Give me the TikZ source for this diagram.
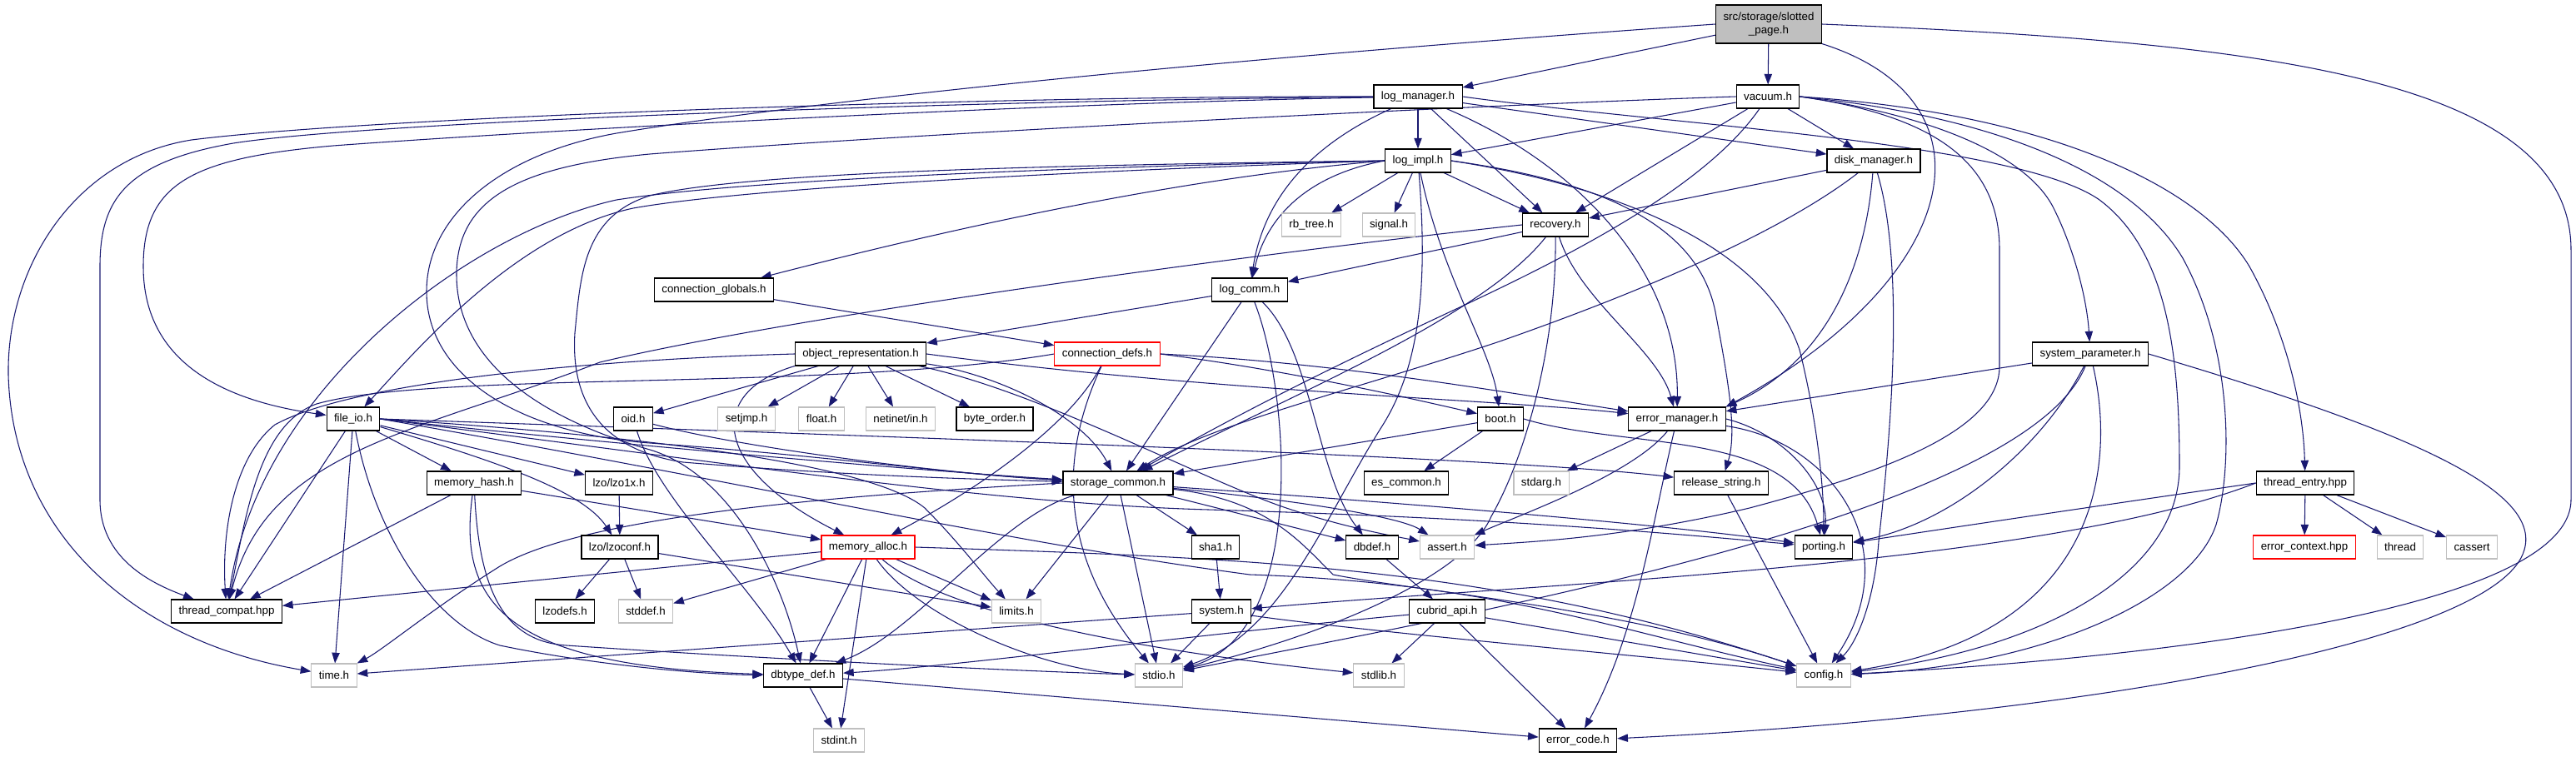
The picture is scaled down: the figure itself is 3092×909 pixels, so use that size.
\documentclass[tikz,border=0pt]{standalone}
\usepackage{fontspec}
\setmainfont{Liberation Sans}
\usetikzlibrary{arrows.meta,backgrounds}
\definecolor{edgeblue}{HTML}{191970}
\definecolor{sysgray}{HTML}{BFBFBF}
\tikzset{every picture/.style={>={Triangle[length=9.5pt,width=7pt]}}}

\begin{document}
\begin{tikzpicture}[
    x=0.75pt, y=-0.75pt,
    every node/.style={font=\fontsize{10}{12.5}\selectfont},
    hdrbox/.style={draw=black, fill=white, line width=0.8pt,
        minimum height=21pt, inner xsep=6.7pt, inner ysep=0pt},
    sysbox/.style={hdrbox, draw=sysgray},
    redbox/.style={hdrbox, draw=red},
    rootbox/.style={hdrbox, fill=sysgray, minimum height=34.5pt, align=center},
    incl/.style={->, draw=edgeblue, line width=0.8pt}
]
    \useasboundingbox (0,0) rectangle (3092,909);

    % headers, row by row
    \node[rootbox] (root) at (2123,29) {src/storage/slotted\\\_page.h};

    \node[hdrbox] (lm)  at (1702,116) {log\_manager.h};
    \node[hdrbox] (vac) at (2122,116) {vacuum.h};

    \node[hdrbox] (li) at (1702,193) {log\_impl.h};
    \node[hdrbox] (dm) at (2249,193) {disk\_manager.h};

    \node[sysbox] (rbt) at (1574,270) {rb\_tree.h};
    \node[sysbox] (sig) at (1667,270) {signal.h};
    \node[hdrbox] (rec) at (1867,270) {recovery.h};

    \node[hdrbox] (cg) at (857,348) {connection\_globals.h};
    \node[hdrbox] (lc) at (1500,348) {log\_comm.h};

    \node[hdrbox] (orep) at (1033,425) {object\_representation.h};
    \node[redbox] (cd)   at (1329,425) {connection\_defs.h};
    \node[hdrbox] (sp)   at (2509,425) {system\_parameter.h};

    \node[hdrbox] (fio)  at (424,503)  {file\_io.h};
    \node[hdrbox] (oid)  at (760,503)  {oid.h};
    \node[sysbox] (sjmp) at (896,503)  {setjmp.h};
    \node[sysbox] (flt)  at (986,503)  {float.h};
    \node[sysbox] (nin)  at (1081,503) {netinet/in.h};
    \node[hdrbox] (bo)   at (1194,503) {byte\_order.h};
    \node[hdrbox] (boot) at (1801,503) {boot.h};
    \node[hdrbox] (em)   at (2013,503) {error\_manager.h};

    \node[hdrbox] (mh)   at (569,580)  {memory\_hash.h};
    \node[hdrbox] (l1x)  at (743,580)  {lzo/lzo1x.h};
    \node[hdrbox] (sc)   at (1342,580) {storage\_common.h};
    \node[hdrbox] (esc)  at (1688,580) {es\_common.h};
    \node[sysbox] (sarg) at (1850,580) {stdarg.h};
    \node[hdrbox] (rs)   at (2066,580) {release\_string.h};
    \node[hdrbox] (te)   at (2767,580) {thread\_entry.hpp};

    \node[hdrbox] (lzc)  at (744,657)  {lzo/lzoconf.h};
    \node[redbox] (ma)   at (1042,657) {memory\_alloc.h};
    \node[hdrbox] (sha)  at (1459,657) {sha1.h};
    \node[hdrbox] (dbd)  at (1647,657) {dbdef.h};
    \node[sysbox] (ast)  at (1737,657) {assert.h};
    \node[hdrbox] (port) at (2189,657) {porting.h};
    \node[redbox] (ectx) at (2766,657) {error\_context.hpp};
    \node[sysbox] (thr)  at (2881,657) {thread};
    \node[sysbox] (cas)  at (2967,657) {cassert};

    \node[hdrbox] (tc)   at (272,734)  {thread\_compat.hpp};
    \node[hdrbox] (lzd)  at (678,734)  {lzodefs.h};
    \node[sysbox] (sdef) at (775,734)  {stddef.h};
    \node[sysbox] (lim)  at (1220,734) {limits.h};
    \node[hdrbox] (sysh) at (1466,734) {system.h};
    \node[hdrbox] (capi) at (1737,734) {cubrid\_api.h};

    \node[sysbox] (tim)  at (401,811)  {time.h};
    \node[hdrbox] (dbt)  at (964,811)  {dbtype\_def.h};
    \node[sysbox] (sio)  at (1391,811) {stdio.h};
    \node[sysbox] (slib) at (1655,811) {stdlib.h};
    \node[sysbox] (cfg)  at (2189,811) {config.h};

    \node[sysbox] (sint)  at (1007,889) {stdint.h};
    \node[hdrbox] (ecode) at (1894,889) {error\_code.h};

    \begin{scope}[on background layer]
      % slotted_page.h
      \draw[incl] (root) -- (lm);
      \draw[incl] (root) -- (vac);
      \draw[incl] (root.west) .. controls (1400,75) and (950,125) .. (740,160)
          .. controls (600,185) and (512,260) .. (512,350)
          .. controls (512,450) and (620,520) .. (780,532)
          .. controls (1000,548) and (1150,570) .. (sc);
      \draw[incl] (root.south east) .. controls (2400,120) and (2360,330) .. (em.north east);
      \draw[incl] (root.east) .. controls (2700,50) and (3086,90) .. (3086,300) -- (3086,600)
          .. controls (3086,730) and (2600,790) .. (cfg);

      % log_manager.h
      \draw[incl] (lm) -- (li);
      \draw[incl] (lm) -- (rec);
      \draw[incl] (lm) -- (dm);
      \draw[incl] (lm) .. controls (1900,200) and (2015,330) .. (em);
      \draw[incl] (lm) .. controls (1560,180) and (1515,250) .. (lc);
      \draw[incl] (lm) .. controls (1200,115) and (450,140) .. (230,168)
          .. controls (90,190) and (8,320) .. (10,450)
          .. controls (15,640) and (160,770) .. (tim);
      \draw[incl] (lm) .. controls (1200,120) and (450,145) .. (280,172)
          .. controls (150,195) and (120,240) .. (120,320) -- (120,600)
          .. controls (120,670) and (180,700) .. (tc);
      \draw[incl] (lm) .. controls (1200,125) and (600,160) .. (400,175)
          .. controls (230,190) and (172,220) .. (172,320)
          .. controls (172,430) and (260,480) .. (fio);
      \draw[incl] (lm.east) .. controls (2000,150) and (2420,170) .. (2520,240)
          .. controls (2600,300) and (2616,420) .. (2616,560)
          .. controls (2616,690) and (2450,780) .. (cfg);

      % vacuum.h
      \draw[incl] (vac) -- (li);
      \draw[incl] (vac) -- (dm);
      \draw[incl] (vac) -- (rec);
      \draw[incl] (vac) .. controls (2050,220) and (1900,300) .. (1750,370)
          .. controls (1600,440) and (1480,500) .. (sc);
      \draw[incl] (vac.west) .. controls (1800,125) and (1100,160) .. (780,185)
          .. controls (620,200) and (548,240) .. (548,330)
          .. controls (548,430) and (640,500) .. (780,540)
          .. controls (880,570) and (940,700) .. (dbt);
      \draw[incl] (vac.east) .. controls (2300,135) and (2430,180) .. (2465,250)
          .. controls (2490,300) and (2505,360) .. (sp);
      \draw[incl] (vac.east) .. controls (2450,135) and (2640,220) .. (2700,320)
          .. controls (2750,410) and (2765,500) .. (te);
      \draw[incl] (vac.east) .. controls (2330,140) and (2400,200) .. (2400,300) -- (2400,440)
          .. controls (2400,520) and (2250,570) .. (2100,610)
          .. controls (1950,645) and (1850,650) .. (ast);
      \draw[incl] (vac.east) .. controls (2400,140) and (2560,210) .. (2620,310)
          .. controls (2680,420) and (2680,560) .. (2660,630)
          .. controls (2630,720) and (2450,800) .. (cfg);

      % log_impl.h
      \draw[incl] (li) -- (rec);
      \draw[incl] (li) -- (rbt);
      \draw[incl] (li) -- (sig);
      \draw[incl] (li.west) .. controls (1400,215) and (1120,280) .. (cg);
      \draw[incl] (li.west) .. controls (1570,210) and (1520,260) .. (lc);
      \draw[incl] (li.west) .. controls (1300,205) and (900,225) .. (760,250)
          .. controls (620,280) and (500,420) .. (fio);
      \draw[incl] (li.west) .. controls (1300,200) and (900,215) .. (740,240)
          .. controls (560,280) and (310,470) .. (tc);
      \draw[incl] (li.west) .. controls (1300,198) and (900,205) .. (780,235)
          .. controls (700,260) and (697,330) .. (690,400)
          .. controls (685,480) and (720,540) .. (820,555)
          .. controls (1000,570) and (1150,575) .. (sc);
      \draw[incl] (li) .. controls (1730,330) and (1790,420) .. (boot);
      \draw[incl] (li.east) .. controls (1900,215) and (2040,260) .. (2060,380)
          .. controls (2075,460) and (2085,520) .. (rs);
      \draw[incl] (li.east) .. controls (1950,225) and (2120,300) .. (2160,420)
          .. controls (2180,500) and (2189,580) .. (port);
      \draw[incl] (li) .. controls (1712,320) and (1710,430) .. (1660,510)
          .. controls (1590,620) and (1540,760) .. (sio);

      % disk_manager.h
      \draw[incl] (dm) -- (rec);
      \draw[incl] (dm) .. controls (2150,270) and (2000,340) .. (1800,410)
          .. controls (1620,470) and (1450,510) .. (sc);
      \draw[incl] (dm) .. controls (2240,310) and (2200,430) .. (em.north east);
      \draw[incl] (dm) .. controls (2290,330) and (2265,560) .. (2255,650)
          .. controls (2250,720) and (2230,770) .. (cfg);

      % recovery.h
      \draw[incl] (rec) -- (lc);
      \draw[incl] (rec.west) .. controls (1500,305) and (950,380) .. (720,435)
          .. controls (500,520) and (320,540) .. (tc);
      \draw[incl] (rec) .. controls (1895,360) and (1990,420) .. (em);
      \draw[incl] (rec) .. controls (1780,380) and (1560,470) .. (sc);
      \draw[incl] (rec) .. controls (1868,420) and (1830,550) .. (1790,620)
          .. controls (1760,690) and (1600,760) .. (sio);

      % log_comm.h
      \draw[incl] (lc) -- (orep);
      \draw[incl] (lc) -- (sc);
      \draw[incl] (lc) .. controls (1548,470) and (1570,760) .. (sio);
      \draw[incl] (lc) .. controls (1575,420) and (1580,570) .. (dbd);

      % connection_globals.h
      \draw[incl] (cg) -- (cd);

      % object_representation.h
      \draw[incl] (orep) -- (oid);
      \draw[incl] (orep) -- (sjmp);
      \draw[incl] (orep) -- (flt);
      \draw[incl] (orep) -- (nin);
      \draw[incl] (orep) -- (bo);
      \draw[incl] (orep) .. controls (1200,450) and (1300,500) .. (sc);
      \draw[incl] (orep.east) .. controls (1450,470) and (1800,480) .. (em);
      \draw[incl] (orep.west) .. controls (700,432) and (420,460) .. (330,510)
          .. controls (280,550) and (266,640) .. (tc);
      \draw[incl] (orep.south west) .. controls (850,470) and (850,560) .. (ma);
      \draw[incl] (orep) .. controls (1250,470) and (1450,580) .. (1550,612)
          .. controls (1620,635) and (1680,645) .. (ast);

      % connection_defs.h
      \draw[incl] (cd.east) .. controls (1600,435) and (1800,470) .. (em);
      \draw[incl] (cd.east) .. controls (1550,445) and (1700,480) .. (boot);
      \draw[incl] (cd) .. controls (1280,520) and (1150,600) .. (ma);
      \draw[incl] (cd) .. controls (1275,540) and (1265,660) .. (sio);
      \draw[incl] (cd.west) .. controls (1000,470) and (520,445) .. (380,485)
          .. controls (310,510) and (295,620) .. (tc);

      % boot.h
      \draw[incl] (boot) -- (esc);
      \draw[incl] (boot) -- (sc);
      \draw[incl] (boot.east) .. controls (1950,540) and (2150,515) .. (port);

      % error_manager.h
      \draw[incl] (em) -- (sarg);
      \draw[incl] (em) .. controls (1960,570) and (1820,620) .. (ast);
      \draw[incl] (em) .. controls (1985,620) and (1965,760) .. (ecode);
      \draw[incl] (em) .. controls (2200,530) and (2290,660) .. (cfg);
      \draw[incl] (em.east) .. controls (2140,520) and (2195,580) .. (port);

      % release_string.h
      \draw[incl] (rs) -- (cfg);

      % system_parameter.h
      \draw[incl] (sp) -- (em);
      \draw[incl] (sp) .. controls (2450,540) and (2340,630) .. (port);
      \draw[incl] (sp) .. controls (2540,560) and (2520,760) .. (cfg);
      \draw[incl] (sp.east) .. controls (2900,520) and (3050,590) .. (3030,660)
          .. controls (3000,770) and (2500,860) .. (ecode);
      \draw[incl] (sp) .. controls (2430,620) and (1750,740) .. (sio);

      % thread_entry.hpp
      \draw[incl] (te) -- (ectx);
      \draw[incl] (te) -- (thr);
      \draw[incl] (te) -- (cas);
      \draw[incl] (te.west) .. controls (2500,610) and (2300,640) .. (port);
      \draw[incl] (te.west) .. controls (2450,680) and (1850,700) .. (sysh);

      % memory_alloc.h
      \draw[incl] (ma) -- (tc);
      \draw[incl] (ma) -- (sdef);
      \draw[incl] (ma) -- (dbt);
      \draw[incl] (ma) -- (sint);
      \draw[incl] (ma) -- (lim);
      \draw[incl] (ma) .. controls (1100,740) and (1250,805) .. (sio);
      \draw[incl] (ma) .. controls (1150,750) and (1450,790) .. (slib);
      \draw[incl] (ma.east) .. controls (1500,670) and (1800,680) .. (cfg);

      % memory_hash.h
      \draw[incl] (mh) -- (tc);
      \draw[incl] (mh) .. controls (550,720) and (600,800) .. (dbt);
      \draw[incl] (mh) .. controls (575,700) and (600,770) .. (680,775)
          .. controls (900,790) and (1200,805) .. (sio);
      \draw[incl] (mh) -- (ma);

      % file_io.h
      \draw[incl] (fio) -- (mh);
      \draw[incl] (fio) -- (l1x);
      \draw[incl] (fio) .. controls (600,555) and (700,590) .. (lzc);
      \draw[incl] (fio) -- (tc);
      \draw[incl] (fio) -- (tim);
      \draw[incl] (fio) .. controls (450,640) and (520,750) .. (600,775)
          .. controls (720,800) and (850,810) .. (dbt);
      \draw[incl] (fio.east) .. controls (700,530) and (1100,565) .. (sc);
      \draw[incl] (fio.east) .. controls (1000,522) and (1800,548) .. (rs);
      \draw[incl] (fio.east) .. controls (900,560) and (1200,605) .. (1450,612)
          .. controls (1800,622) and (2000,640) .. (port);
      \draw[incl] (fio.east) .. controls (900,580) and (1200,650) .. (1500,690)
          .. controls (1800,700) and (1950,760) .. (cfg);
      \draw[incl] (fio.east) .. controls (800,525) and (1050,560) .. (1110,610)
          .. controls (1150,650) and (1180,690) .. (lim);

      % lzo
      \draw[incl] (l1x) -- (lzc);
      \draw[incl] (lzc) -- (lzd);
      \draw[incl] (lzc) -- (sdef);
      \draw[incl] (lzc) -- (lim);

      % storage_common.h
      \draw[incl] (sc.west) .. controls (1000,595) and (700,620) .. (600,680)
          .. controls (520,730) and (460,780) .. (tim);
      \draw[incl] (sc) .. controls (1200,620) and (1100,760) .. (dbt);
      \draw[incl] (sc) -- (lim);
      \draw[incl] (sc) -- (sio);
      \draw[incl] (sc) -- (sha);
      \draw[incl] (sc) -- (dbd);
      \draw[incl] (sc) .. controls (1550,600) and (1680,620) .. (ast);
      \draw[incl] (sc) .. controls (1700,605) and (2000,630) .. (port);
      \draw[incl] (sc) .. controls (1520,600) and (1560,650) .. (1600,690)
          .. controls (1700,710) and (1950,730) .. (cfg);

      % sha1.h, system.h
      \draw[incl] (sha) -- (sysh);
      \draw[incl] (sysh) -- (tim);
      \draw[incl] (sysh) -- (sio);
      \draw[incl] (sysh) .. controls (1650,760) and (2000,790) .. (cfg);

      % dbdef.h, cubrid_api.h, dbtype_def.h
      \draw[incl] (dbd) -- (capi);
      \draw[incl] (capi) .. controls (1450,760) and (1150,800) .. (dbt);
      \draw[incl] (capi) -- (slib);
      \draw[incl] (capi) -- (ecode);
      \draw[incl] (capi) -- (cfg);
      \draw[incl] (dbt) -- (sint);
      \draw[incl] (dbt) -- (ecode);

      % oid.h
      \draw[incl] (oid) .. controls (900,540) and (1150,570) .. (sc);
      \draw[incl] (oid) .. controls (790,600) and (900,700) .. (dbt);
    \end{scope}
\end{tikzpicture}
\end{document}
